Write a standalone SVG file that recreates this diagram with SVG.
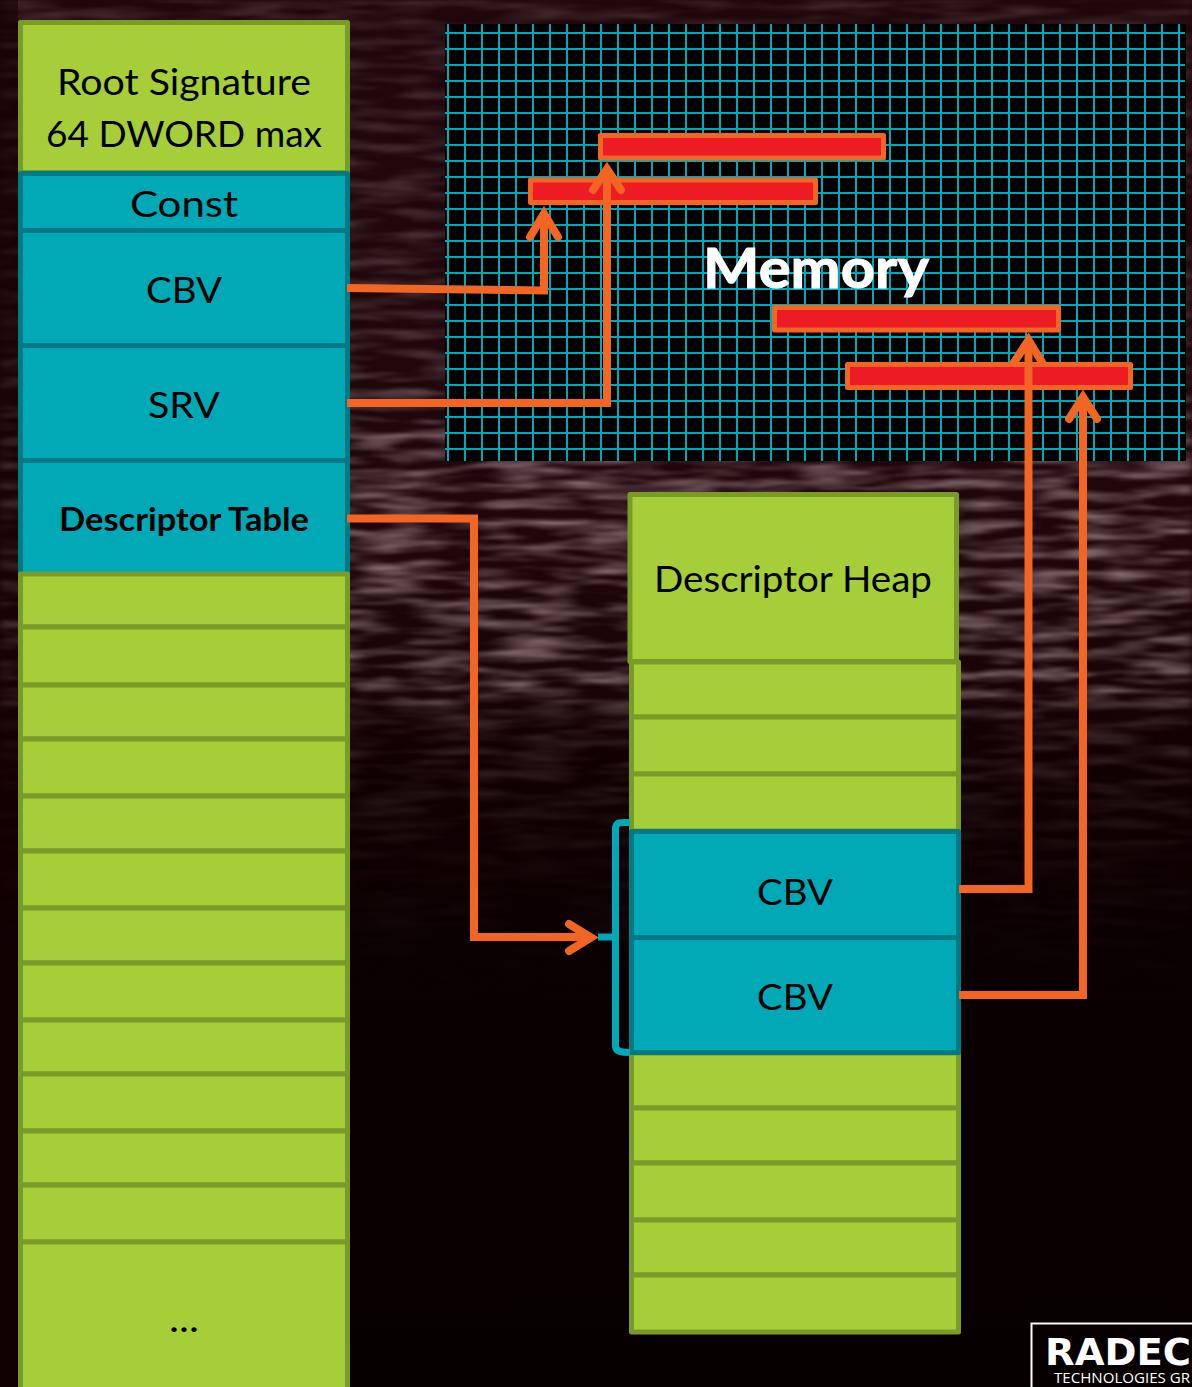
<svg xmlns="http://www.w3.org/2000/svg" width="1192" height="1387" viewBox="0 0 1192 1387">
<style>
.g{fill:#A6CE39;stroke:#7A9A29;stroke-width:5;stroke-linejoin:round}
.t{fill:#00A9B5;stroke:#007A85;stroke-width:5;stroke-linejoin:round}
.m{fill:#ED1C24;stroke:#F26522;stroke-width:5;stroke-linejoin:round}
.c{fill:none;stroke:#F26522;stroke-width:8;stroke-linejoin:miter}
.h{fill:none;stroke:#F26522;stroke-width:8;stroke-linecap:round;stroke-linejoin:miter}
.l{font-family:Lato,"Noto Sans",sans-serif;font-size:37px;fill:#000;text-anchor:middle}
.grid{stroke:#00A9B5;stroke-width:2}
</style>
<defs>
<linearGradient id="bg" x1="0" y1="0" x2="0" y2="1">
<stop offset="0" stop-color="#20070b"/><stop offset="0.35" stop-color="#20070b"/><stop offset="0.5" stop-color="#1a0407"/><stop offset="0.53" stop-color="#130103"/><stop offset="0.68" stop-color="#0b0002"/><stop offset="1" stop-color="#070001"/>
</linearGradient>
<linearGradient id="fade" x1="0" y1="0" x2="0" y2="1">
<stop offset="0" stop-color="#fff" stop-opacity="0.35"/><stop offset="0.25" stop-color="#fff" stop-opacity="0.5"/><stop offset="0.33" stop-color="#fff" stop-opacity="1"/><stop offset="0.495" stop-color="#fff" stop-opacity="1"/><stop offset="0.515" stop-color="#fff" stop-opacity="0.4"/><stop offset="0.62" stop-color="#fff" stop-opacity="0.1"/><stop offset="0.72" stop-color="#fff" stop-opacity="0"/>
</linearGradient>
<mask id="fm"><rect width="1192" height="1387" fill="url(#fade)"/></mask>
<filter id="streak" x="0" y="0" width="100%" height="100%">
<feTurbulence type="fractalNoise" baseFrequency="0.014 0.1" numOctaves="3" seed="11"/>
<feColorMatrix type="matrix" values="0 0 0 0 0.3  0 0 0 0 0.2  0 0 0 0 0.22  1.9 0 0 0 -0.74"/>
<feGaussianBlur stdDeviation="4 0.8"/>
</filter>
</defs>
<g id="background">
<rect width="1192" height="1387" fill="url(#bg)"/>
<g mask="url(#fm)"><rect width="1192" height="1387" filter="url(#streak)"/></g>
<rect width="18" height="1387" fill="#150003" opacity="0.55"/>
</g>
<g id="memory">
<rect x="445" y="24" width="741" height="437" fill="#000"/>
<path class="grid" d="M448 24V461M465 24V461M482 24V461M499 24V461M516 24V461M533 24V461M550 24V461M567 24V461M584 24V461M601 24V461M618 24V461M635 24V461M652 24V461M669 24V461M686 24V461M703 24V461M720 24V461M737 24V461M754 24V461M771 24V461M788 24V461M805 24V461M822 24V461M839 24V461M856 24V461M873 24V461M890 24V461M907 24V461M924 24V461M941 24V461M958 24V461M975 24V461M992 24V461M1009 24V461M1026 24V461M1043 24V461M1060 24V461M1077 24V461M1094 24V461M1111 24V461M1128 24V461M1145 24V461M1162 24V461M1179 24V461"/>
<path class="grid" d="M445 33H1185M445 49H1185M445 65H1185M445 81H1185M445 97H1185M445 113H1185M445 129H1185M445 145H1185M445 161H1185M445 177H1185M445 193H1185M445 209H1185M445 225H1185M445 241H1185M445 257H1185M445 273H1185M445 289H1185M445 305H1185M445 321H1185M445 337H1185M445 353H1185M445 369H1185M445 385H1185M445 401H1185M445 417H1185M445 433H1185M445 449H1185"/>
<text x="816" y="288" font-family="Lato,'Noto Sans',sans-serif" font-size="56" font-weight="700" fill="#fff" text-anchor="middle" stroke="#fff" stroke-width="1" textLength="226" lengthAdjust="spacingAndGlyphs">Memory</text>
</g>
<g id="connector-heads-under">
<path class="h" d="M1013 364L1028.500 340L1043 364"/>
</g>
<g id="memory-blocks">
<rect class="m" x="600.500" y="135.500" width="283" height="22.500"/>
<rect class="m" x="530.500" y="180" width="285" height="22.500"/>
<rect class="m" x="774.500" y="307.500" width="284" height="22.500"/>
<rect class="m" x="847.500" y="364.500" width="283" height="23"/>
</g>
<g id="root-signature">
<rect class="g" x="20.500" y="22.500" width="327" height="150"/>
<text class="l" x="184" y="95" textLength="254" lengthAdjust="spacingAndGlyphs">Root Signature</text>
<text class="l" x="184" y="147" textLength="276" lengthAdjust="spacingAndGlyphs">64 DWORD max</text>
</g>
<g id="root-const"><rect class="t" x="20.500" y="173.500" width="327" height="57"/><text class="l" x="184" y="217" textLength="108" lengthAdjust="spacingAndGlyphs">Const</text></g>
<g id="root-cbv"><rect class="t" x="20.500" y="230.500" width="327" height="115"/><text class="l" x="184" y="303" textLength="76" lengthAdjust="spacingAndGlyphs">CBV</text></g>
<g id="root-srv"><rect class="t" x="20.500" y="345.500" width="327" height="115"/><text class="l" x="184" y="418" textLength="72" lengthAdjust="spacingAndGlyphs">SRV</text></g>
<g id="root-table"><rect class="t" x="20.500" y="460.500" width="327" height="115"/><text class="l" x="184" y="531" style="font-size:33px;font-weight:700" textLength="250" lengthAdjust="spacingAndGlyphs">Descriptor Table</text></g>
<g id="root-rows">
<rect class="g" x="20.500" y="574" width="327" height="53"/>
<rect class="g" x="20.500" y="627" width="327" height="58"/>
<rect class="g" x="20.500" y="685" width="327" height="54"/>
<rect class="g" x="20.500" y="739" width="327" height="57"/>
<rect class="g" x="20.500" y="796" width="327" height="55"/>
<rect class="g" x="20.500" y="851" width="327" height="57"/>
<rect class="g" x="20.500" y="908" width="327" height="55"/>
<rect class="g" x="20.500" y="963" width="327" height="57"/>
<rect class="g" x="20.500" y="1020" width="327" height="54"/>
<rect class="g" x="20.500" y="1074" width="327" height="57"/>
<rect class="g" x="20.500" y="1131" width="327" height="54"/>
<rect class="g" x="20.500" y="1185" width="327" height="57"/>
<rect class="g" x="20.500" y="1242" width="327" height="160"/>
<text class="l" x="184" y="1332" textLength="30" lengthAdjust="spacingAndGlyphs">...</text>
</g>
<g id="heap-title">
<rect class="g" x="630" y="494.500" width="326.500" height="167"/>
<text class="l" x="793" y="592" textLength="278" lengthAdjust="spacingAndGlyphs">Descriptor Heap</text>
</g>
<g id="heap-rows">
<rect class="g" x="631.500" y="662" width="327" height="55"/>
<rect class="g" x="631.500" y="717" width="327" height="57"/>
<rect class="g" x="631.500" y="774" width="327" height="57"/>
<rect class="g" x="631.500" y="1053" width="327" height="55"/>
<rect class="g" x="631.500" y="1108" width="327" height="55"/>
<rect class="g" x="631.500" y="1163" width="327" height="57"/>
<rect class="g" x="631.500" y="1220" width="327" height="55"/>
<rect class="g" x="631.500" y="1275" width="327" height="57"/>
</g>
<g id="heap-cbv-1"><rect class="t" x="631.500" y="831.500" width="327" height="106"/><text class="l" x="795" y="905" textLength="76" lengthAdjust="spacingAndGlyphs">CBV</text></g>
<g id="heap-cbv-2"><rect class="t" x="631.500" y="937.500" width="327" height="115"/><text class="l" x="795" y="1010" textLength="76" lengthAdjust="spacingAndGlyphs">CBV</text></g>
<g id="bracket">
<path d="M630 822.500C622 822.500 615.500 821 615.500 829V1046C615.500 1052 622 1052.500 630 1052.500M615.500 937H598" fill="none" stroke="#00A9B5" stroke-width="7"/>
</g>
<g id="connectors">
<path class="c" d="M347 288L544 290.500V214"/>
<path class="h" d="M530 237L544 213.500L558 237"/>
<path class="c" d="M347 403H607V172"/>
<path class="h" d="M593 190L607 169L621 190"/>
<path class="c" d="M347 518.500H474V937H590"/>
<path class="h" d="M569 924L591 937.500L569 951"/>
<path class="c" d="M959 889H1028.500V342"/>
<path class="c" d="M959 995H1083V400"/>
<path class="h" d="M1069 419L1083 397L1097 419"/>
</g>
<g id="logo">
<path d="M1031.500 1387V1323.500H1192" fill="none" stroke="#fff" stroke-width="2"/>
<text x="1045" y="1365" font-family="'DejaVu Sans',sans-serif" font-size="37" font-weight="700" fill="#fff" textLength="146" lengthAdjust="spacingAndGlyphs">RADEC</text>
<text x="1054" y="1383" font-family="'Open Sans',sans-serif" font-size="14" fill="#fff" textLength="136" lengthAdjust="spacingAndGlyphs">TECHNOLOGIES GR</text>
</g>
</svg>
